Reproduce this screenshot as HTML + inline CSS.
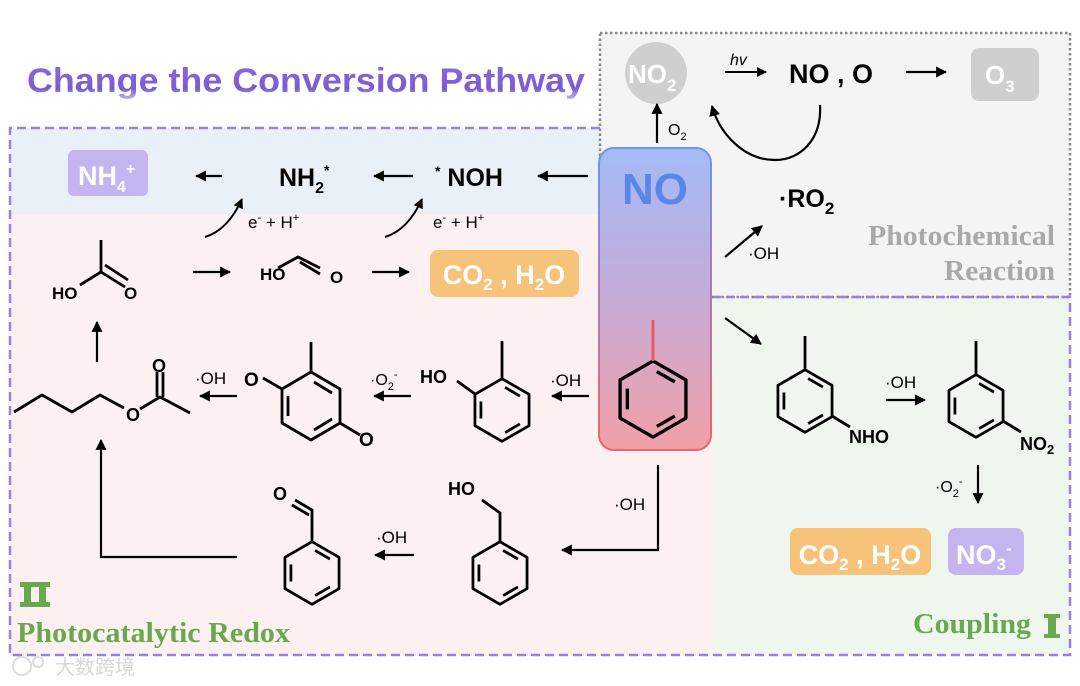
<!DOCTYPE html>
<html><head><meta charset="utf-8"><style>
html,body{margin:0;padding:0;background:#fff;}
svg{display:block;}
text{font-family:"Liberation Sans",sans-serif;}
.s{font-family:"Liberation Serif",serif;font-weight:bold;}
</style></head><body>
<svg width="1080" height="686" viewBox="0 0 1080 686" xmlns="http://www.w3.org/2000/svg">
<defs>
<marker id="a" viewBox="0 0 10 10" refX="9" refY="5" markerWidth="5" markerHeight="5" orient="auto"><path d="M0,0 L10,5 L0,10 z" fill="#000"/></marker>
<linearGradient id="g" x1="0" y1="0" x2="0" y2="1"><stop offset="0" stop-color="#a3bbf6"/><stop offset="0.5" stop-color="#c6acd8"/><stop offset="1" stop-color="#f2a0a6"/></linearGradient>
<linearGradient id="gb" x1="0" y1="0" x2="0" y2="1"><stop offset="0" stop-color="#6f95ee"/><stop offset="1" stop-color="#ee6370"/></linearGradient>
<linearGradient id="tt" x1="0" y1="0" x2="0" y2="1"><stop offset="0" stop-color="#8a6be0"/><stop offset="0.7" stop-color="#7a5cd0"/><stop offset="1" stop-color="#c9b8f0"/></linearGradient>
<g id="bz" fill="none" stroke="#000" stroke-width="3" stroke-linejoin="round">
<path d="M0,-34 L29.4,-17 L29.4,17 L0,34 L-29.4,17 L-29.4,-17 Z"/>
<path d="M3.4,-24.5 L19.5,-15.2 M19.5,15.2 L3.4,24.5 M-22.9,9.3 L-22.9,-9.3"/>
</g>
</defs>

<rect x="600" y="33" width="470" height="264" fill="#f4f4f4"/>
<rect x="10" y="128" width="590" height="86" fill="#eaf0f8"/>
<rect x="10" y="214" width="703" height="441" fill="#fdf0f0"/>
<rect x="713" y="297" width="357" height="358" fill="#eff6ee"/>
<rect x="600" y="33" width="470" height="264" fill="none" stroke="#888" stroke-width="2.5" stroke-dasharray="2.5,2.5"/>
<path d="M600,128 L10,128 L10,655 L1070,655 L1070,297 L713,297" fill="none" stroke="#9b80e2" stroke-width="2.5" stroke-dasharray="9,5"/>

<text x="27" y="92" font-size="34" font-weight="bold" fill="url(#tt)" textLength="558" lengthAdjust="spacingAndGlyphs">Change the Conversion Pathway</text>

<rect x="599" y="148" width="112" height="302" rx="15" fill="url(#g)" stroke="url(#gb)" stroke-width="2"/>
<text x="655" y="204" font-size="44" font-weight="bold" fill="#5a86e8" text-anchor="middle">NO</text>
<g transform="translate(653,399) scale(1.12)"><use href="#bz" style="stroke:#ee5560"/></g>
<line x1="653" y1="320" x2="653" y2="361" stroke="#ee5560" stroke-width="3"/>

<rect x="68" y="150" width="80" height="46" rx="6" fill="#c4b4f0"/>
<text x="78" y="185" font-size="27" font-weight="bold" fill="#fff">NH<tspan font-size="16" dy="7">4</tspan><tspan font-size="16" dy="-18">+</tspan></text>
<text x="279" y="186" font-size="25" font-weight="bold">NH<tspan font-size="16" dy="7">2</tspan><tspan font-size="14" dy="-18">*</tspan></text>
<text x="435" y="186" font-size="25" font-weight="bold"><tspan font-size="14" dy="-10">*</tspan><tspan dy="10"> NOH</tspan></text>
<g stroke="#000" stroke-width="2.2" marker-end="url(#a)">
<line x1="222" y1="176" x2="196" y2="176"/>
<line x1="413" y1="176" x2="374" y2="176"/>
<line x1="588" y1="176" x2="538" y2="176"/>
</g>
<g fill="none" stroke="#000" stroke-width="2" marker-end="url(#a)">
<path d="M205,237 Q228,230 242,199"/>
<path d="M385,237 Q408,230 422,199"/>
</g>
<text x="248" y="228" font-size="17">e<tspan font-size="11" dy="-7">-</tspan><tspan dy="7"> + H</tspan><tspan font-size="11" dy="-7">+</tspan></text>
<text x="433" y="228" font-size="17">e<tspan font-size="11" dy="-7">-</tspan><tspan dy="7"> + H</tspan><tspan font-size="11" dy="-7">+</tspan></text>

<g fill="none" stroke="#000" stroke-width="2.8">
<path d="M101,240 L101,272 L80,285 M101,272 L125,287 M105,265 L128,280"/>
<path d="M278,268 L298,257 L320,268 M300,262 L320,274"/>
</g>
<text x="52" y="299" font-size="17" font-weight="bold">HO</text>
<text x="124" y="299" font-size="17" font-weight="bold">O</text>
<text x="260" y="280" font-size="17" font-weight="bold">HO</text>
<text x="330" y="283" font-size="17" font-weight="bold">O</text>
<g stroke="#000" stroke-width="2.2" marker-end="url(#a)">
<line x1="193" y1="272" x2="230" y2="272"/>
<line x1="372" y1="272" x2="409" y2="272"/>
</g>
<rect x="430" y="250" width="149" height="47" rx="8" fill="#f7c27a"/>
<text x="504" y="284" font-size="27" font-weight="bold" fill="#fff" text-anchor="middle">CO<tspan font-size="17" dy="6">2</tspan><tspan dy="-6"> , H</tspan><tspan font-size="17" dy="6">2</tspan><tspan dy="-6">O</tspan></text>

<circle cx="656" cy="73" r="31" fill="#cfcfcf"/>
<text x="628" y="83" font-size="26" font-weight="bold" fill="#fff">NO<tspan font-size="17" dy="8">2</tspan></text>
<line x1="657" y1="143" x2="657" y2="104" stroke="#000" stroke-width="2.2" marker-end="url(#a)"/>
<text x="668" y="135" font-size="16">O<tspan font-size="11" dy="5">2</tspan></text>
<line x1="725" y1="72" x2="766" y2="72" stroke="#000" stroke-width="2" marker-end="url(#a)"/>
<text x="730" y="65" font-size="16" font-style="italic">hv</text>
<text x="789" y="83" font-size="27" font-weight="bold">NO , O</text>
<line x1="906" y1="72" x2="946" y2="72" stroke="#000" stroke-width="2.2" marker-end="url(#a)"/>
<rect x="971" y="48" width="68" height="53" rx="8" fill="#cfcfcf"/>
<text x="985" y="84" font-size="26" font-weight="bold" fill="#fff">O<tspan font-size="17" dy="8">3</tspan></text>
<path d="M820,105 C822,140 800,160 775,160 C745,160 720,135 712,106" fill="none" stroke="#000" stroke-width="2.2" marker-end="url(#a)"/>
<text x="779" y="207" font-size="25" font-weight="bold">·RO<tspan font-size="17" dy="7">2</tspan></text>
<line x1="725" y1="257" x2="762" y2="226" stroke="#000" stroke-width="2.2" marker-end="url(#a)"/>
<text x="748" y="259" font-size="17">·OH</text>
<text class="s" x="868" y="245" font-size="28" fill="#a9a9a9" textLength="187" lengthAdjust="spacingAndGlyphs">Photochemical</text>
<text class="s" x="944" y="280" font-size="28" fill="#a9a9a9" textLength="111" lengthAdjust="spacingAndGlyphs">Reaction</text>

<line x1="725" y1="318" x2="761" y2="344" stroke="#000" stroke-width="2.2" marker-end="url(#a)"/>
<use href="#bz" transform="translate(805,401) scale(0.92)"/>
<line x1="805" y1="336" x2="805" y2="370" stroke="#000" stroke-width="2.8"/>
<line x1="832" y1="416" x2="850" y2="427" stroke="#000" stroke-width="2.8"/>
<text x="849" y="443" font-size="18" font-weight="bold">NHO</text>
<text x="885" y="388" font-size="17">·OH</text>
<line x1="886" y1="400" x2="925" y2="400" stroke="#000" stroke-width="2.2" marker-end="url(#a)"/>
<use href="#bz" transform="translate(976,406) scale(0.92)"/>
<line x1="976" y1="341" x2="976" y2="375" stroke="#000" stroke-width="2.8"/>
<line x1="1003" y1="421" x2="1021" y2="432" stroke="#000" stroke-width="2.8"/>
<text x="1020" y="450" font-size="18" font-weight="bold">NO<tspan font-size="13" dy="4">2</tspan></text>
<line x1="978" y1="465" x2="978" y2="503" stroke="#000" stroke-width="2.2" marker-end="url(#a)"/>
<text x="935" y="492" font-size="16">·O<tspan font-size="11" dy="5">2</tspan><tspan font-size="11" dy="-12">-</tspan></text>
<rect x="790" y="528" width="141" height="47" rx="8" fill="#f7c27a"/>
<text x="860" y="564" font-size="27" font-weight="bold" fill="#fff" text-anchor="middle">CO<tspan font-size="17" dy="6">2</tspan><tspan dy="-6"> , H</tspan><tspan font-size="17" dy="6">2</tspan><tspan dy="-6">O</tspan></text>
<rect x="948" y="528" width="76" height="47" rx="8" fill="#c4b4f0"/>
<text x="956" y="564" font-size="27" font-weight="bold" fill="#fff">NO<tspan font-size="17" dy="6">3</tspan><tspan font-size="17" dy="-16">-</tspan></text>
<text class="s" x="913" y="633" font-size="28" fill="#6aa84f" textLength="118" lengthAdjust="spacingAndGlyphs">Coupling</text>
<rect x="1044" y="614" width="16" height="4" fill="#6aa84f"/><rect x="1048" y="614" width="8" height="24" fill="#6aa84f"/><rect x="1044" y="634" width="16" height="4" fill="#6aa84f"/>

<use href="#bz" transform="translate(502,410) scale(0.92)"/>
<path d="M502,341 L502,379 M475,394 L457,381" fill="none" stroke="#000" stroke-width="2.8"/>
<text x="420" y="383" font-size="18" font-weight="bold">HO</text>
<text x="550" y="386" font-size="17">·OH</text>
<line x1="589" y1="396" x2="552" y2="396" stroke="#000" stroke-width="2.2" marker-end="url(#a)"/>

<g fill="none" stroke="#000" stroke-width="2.8" stroke-linejoin="round">
<path d="M311,372 L340,389 L340,423 L311,440 L282,423 L282,389 Z"/>
<path d="M314,382 L332,393 M288,396 L288,416 M314,430 L332,419"/>
<path d="M311,342 L311,372 M282,389 L263,378 M340,423 L360,435"/>
</g>
<text x="244" y="386" font-size="19" font-weight="bold">O</text>
<text x="359" y="446" font-size="19" font-weight="bold">O</text>
<text x="370" y="385" font-size="16">·O<tspan font-size="11" dy="5">2</tspan><tspan font-size="11" dy="-12">-</tspan></text>
<line x1="411" y1="396" x2="374" y2="396" stroke="#000" stroke-width="2.2" marker-end="url(#a)"/>

<path d="M14,412 L42,395 L72,412 L100,395 L124,408 M140,409 L160,397 L190,413 M157,397 L157,372 M163,397 L163,372" fill="none" stroke="#000" stroke-width="2.8" stroke-linejoin="round"/>
<text x="126" y="421" font-size="18" font-weight="bold">O</text>
<text x="152" y="372" font-size="18" font-weight="bold">O</text>
<text x="195" y="384" font-size="17">·OH</text>
<line x1="237" y1="396" x2="200" y2="396" stroke="#000" stroke-width="2.2" marker-end="url(#a)"/>
<line x1="97" y1="362" x2="97" y2="322" stroke="#000" stroke-width="2.2" marker-end="url(#a)"/>

<path d="M237,557 L101,557 L101,440" fill="none" stroke="#000" stroke-width="2.2" marker-end="url(#a)"/>
<path d="M658,465 L658,550 L562,550" fill="none" stroke="#000" stroke-width="2.2" marker-end="url(#a)"/>
<text x="614" y="510" font-size="17">·OH</text>

<use href="#bz" transform="translate(500,573) scale(0.92)"/>
<path d="M500,542 L500,513 L482,500" fill="none" stroke="#000" stroke-width="2.8"/>
<text x="448" y="495" font-size="18" font-weight="bold">HO</text>

<use href="#bz" transform="translate(312,573) scale(0.92)"/>
<path d="M312,542 L312,510 L295,500 M309,515 L292,505" fill="none" stroke="#000" stroke-width="2.8"/>
<text x="273" y="500" font-size="18" font-weight="bold">O</text>
<text x="376" y="543" font-size="17">·OH</text>
<line x1="414" y1="555" x2="375" y2="555" stroke="#000" stroke-width="2.2" marker-end="url(#a)"/>

<g fill="#6aa84f"><rect x="20" y="582" width="30" height="5"/><rect x="20" y="602" width="30" height="5"/><rect x="24" y="582" width="7" height="25"/><rect x="39" y="582" width="7" height="25"/></g>
<text class="s" x="17" y="642" font-size="28" fill="#6aa84f" textLength="273" lengthAdjust="spacingAndGlyphs">Photocatalytic Redox</text>
<text x="55" y="674" font-size="20" fill="#d8d8d8" font-family="'Liberation Sans','Noto Sans CJK SC',sans-serif">大数跨境</text>
<circle cx="22" cy="666" r="9" fill="none" stroke="#ddd" stroke-width="2"/>
<circle cx="38" cy="662" r="5" fill="none" stroke="#ddd" stroke-width="2"/>
</svg>
</body></html>
